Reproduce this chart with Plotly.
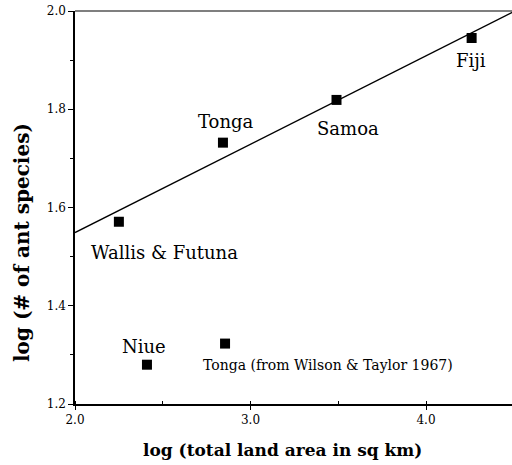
import numpy as np
import plotly.graph_objects as go

# ---- data ----
islands = ["Wallis & Futuna", "Tonga", "Samoa", "Fiji"]
log_area = [2.25, 2.843, 3.49, 4.26]
log_species = [1.571, 1.732, 1.819, 1.945]

outlier_names = ["Niue", "Tonga (from Wilson & Taylor 1967)"]
outlier_area = [2.41, 2.855]
outlier_species = [1.28, 1.323]

x_range = [2.0, 4.49]
y_range = [1.2, 2.0]

x_title = "log (total land area in sq km)"
y_title = "log (# of ant species)"

# label offsets in pixels (style only)
label_dx = [46, 3, 11, -1]
label_dy = [-31, 21, -29, -22]
out_dx = [-3, 103]
out_dy = [18, -21]
out_size = [18, 14]

FONT = "DejaVu Serif"

# regression line through the four main islands
slope, intercept = np.polyfit(log_area, log_species, 1)
fit_x = np.array([x_range[0], 4.5])
fit_y = intercept + slope * fit_x

fig = go.Figure()
fig.add_trace(go.Scatter(x=fit_x, y=fit_y, mode="lines",
                         line=dict(color="black", width=1.3),
                         hoverinfo="skip", showlegend=False))
fig.add_trace(go.Scatter(x=log_area + outlier_area,
                         y=log_species + outlier_species,
                         mode="markers",
                         marker=dict(symbol="square", size=10, color="black"),
                         cliponaxis=False,
                         showlegend=False))

annotations = []
for name, x, y, dx, dy in zip(islands, log_area, log_species, label_dx, label_dy):
    annotations.append(dict(x=x, y=y, text=name, showarrow=False,
                            xshift=dx, yshift=dy, xanchor="center", yanchor="middle",
                            font=dict(family=FONT, size=18, color="black")))
for name, x, y, dx, dy, s in zip(outlier_names, outlier_area, outlier_species, out_dx, out_dy, out_size):
    annotations.append(dict(x=x, y=y, text=name, showarrow=False,
                            xshift=dx, yshift=dy, xanchor="center", yanchor="middle",
                            font=dict(family=FONT, size=s, color="black")))

annotations.append(dict(xref="paper", yref="paper", x=0.474, y=-0.117, text=x_title,
                        showarrow=False, xanchor="center", yanchor="middle",
                        font=dict(family=FONT, size=17, color="black", weight="bold")))
annotations.append(dict(xref="paper", yref="paper", x=-0.121, y=0.41, text=y_title,
                        showarrow=False, textangle=-90, xanchor="center", yanchor="middle",
                        font=dict(family=FONT, size=20, color="black", weight="bold")))

fig.update_layout(
    width=512, height=465, autosize=False,
    margin=dict(l=75, r=0, t=11, b=61),
    paper_bgcolor="white", plot_bgcolor="white",
    font=dict(family=FONT, color="black"),
    annotations=annotations,
    shapes=[dict(type="line", xref="paper", yref="paper", x0=0, x1=1, y0=1, y1=1,
                 line=dict(color="#555555", width=1.5))],
    showlegend=False,
)
fig.update_xaxes(range=x_range, showline=True, linecolor="black", linewidth=1.5,
                 showgrid=False, zeroline=False, tick0=2, dtick=1, tickformat=".1f",
                 ticks="outside", ticklen=4, tickcolor="black",
                 tickfont=dict(family=FONT, size=12, color="black"),
                 minor=dict(dtick=0.5, ticks="inside", ticklen=3, tickcolor="black"))
fig.update_yaxes(range=y_range, showline=True, linecolor="black", linewidth=1.5,
                 showgrid=False, zeroline=False, tick0=1.2, dtick=0.2, tickformat=".1f",
                 ticks="outside", ticklen=5, tickcolor="black",
                 tickfont=dict(family=FONT, size=12, color="black"),
                 minor=dict(dtick=0.1, ticks="outside", ticklen=3, tickcolor="black"))

# remove the browser's default 8px body margin so the figure fills the window
fig.write_html("out.html",
               config={"displayModeBar": False},
               post_script="document.body.style.margin='0px';document.body.style.overflow='hidden';")
